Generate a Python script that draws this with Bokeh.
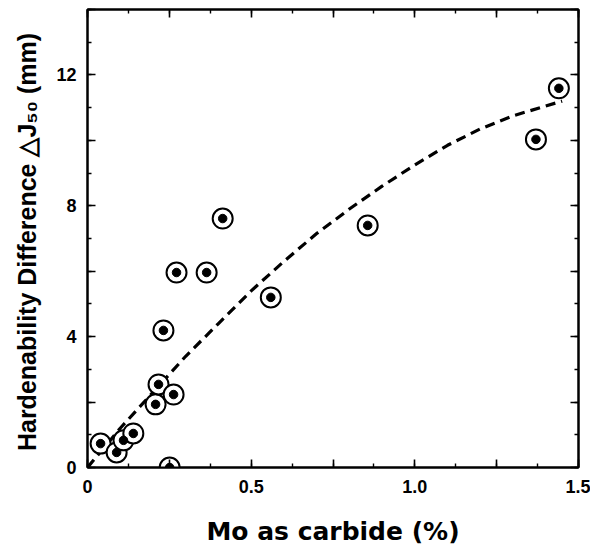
from bokeh.plotting import figure
from bokeh.models import Range1d, LinearAxis, FixedTicker, CustomJSTickFormatter
from bokeh.embed import file_html
from bokeh.resources import INLINE

# Data
mo_carbide = [0.04, 0.089, 0.11, 0.14, 0.208, 0.217, 0.263, 0.251, 0.232, 0.272,
              0.364, 0.413, 0.56, 0.856, 1.37, 1.44]
delta_j50 = [0.73, 0.46, 0.83, 1.04, 1.93, 2.54, 2.23, 0.0, 4.19, 5.96,
             5.96, 7.61, 5.2, 7.4, 10.03, 11.59]

# dashed trend curve
fit_x = [0, 0.1, 0.2, 0.3, 0.4, 0.5, 0.6, 0.7, 0.8, 0.9, 1.0, 1.1, 1.2, 1.3, 1.45]
fit_y = [0, 1.2, 2.3, 3.4, 4.4, 5.4, 6.3, 7.15, 7.9, 8.6, 9.25, 9.85, 10.35, 10.75, 11.2]

x_major = [0, 0.25, 0.5, 0.75, 1.0, 1.25, 1.5]
x_minor = [0, 0.125, 0.25, 0.375, 0.5, 0.625, 0.75, 0.875, 1.0, 1.125, 1.25, 1.375, 1.5]
y_major = [0, 2, 4, 6, 8, 10, 12, 14]
y_minor = [0, 1, 2, 3, 4, 5, 6, 7, 8, 9, 10, 11, 12, 13, 14]

x_title = "Mo as carbide (%)"
y_title = "Hardenability Difference  \u25b3J\u2085\u2080 (mm)"

TICK_FONT = "Liberation Sans"

p = figure(width=590, height=556, x_range=Range1d(0, 1.5), y_range=Range1d(0, 14),
           output_backend="svg", toolbar_location=None,
           x_axis_location=None, y_axis_location=None,
           min_border_left=87, min_border_right=12, min_border_top=9, min_border_bottom=89)
p.xgrid.visible = False
p.ygrid.visible = False
p.outline_line_color = "black"
p.outline_line_width = 2
p.background_fill_color = "white"
p.border_fill_color = "white"


def make_axis(major, minor, formatter, labels=True):
    ax = LinearAxis(ticker=FixedTicker(ticks=major, minor_ticks=minor), formatter=formatter)
    ax.axis_line_color = "black"
    ax.axis_line_width = 2
    ax.major_tick_in = 8
    ax.major_tick_out = 0
    ax.minor_tick_in = 4
    ax.minor_tick_out = 0
    ax.major_tick_line_width = 1.6
    ax.minor_tick_line_width = 1.4
    ax.major_tick_line_color = "black"
    ax.minor_tick_line_color = "black"
    if labels:
        ax.major_label_text_font = TICK_FONT
        ax.major_label_text_font_style = "bold"
        ax.major_label_text_font_size = "18px"
        ax.major_label_text_color = "black"
    else:
        ax.major_label_text_font_size = "0px"
        ax.major_label_standoff = 0
    return ax


blank = CustomJSTickFormatter(code="return '';")
xfmt = CustomJSTickFormatter(code="""
if (Math.abs(tick*2 - Math.round(tick*2)) > 1e-6) return '';
return tick == 0 ? '0' : tick.toFixed(1);
""")
yfmt = CustomJSTickFormatter(code="return (Math.abs(tick % 4) < 1e-6) ? tick.toFixed(0) : '';")

bottom = make_axis(x_major, x_minor, xfmt)
bottom.major_label_standoff = 12
bottom.axis_label = x_title
bottom.axis_label_text_font = "DejaVu Sans"
bottom.axis_label_text_font_style = "bold"
bottom.axis_label_text_font_size = "25px"
bottom.axis_label_text_color = "black"
bottom.axis_label_standoff = 21

left = make_axis(y_major, y_minor, yfmt)
left.major_label_standoff = 11
left.axis_label = y_title
left.axis_label_text_font = "Liberation Sans"
left.axis_label_text_font_style = "bold"
left.axis_label_text_font_size = "25px"
left.axis_label_text_color = "black"
left.axis_label_standoff = 12

top = make_axis(x_major, x_minor, blank, labels=False)
right = make_axis(y_major, y_minor, blank, labels=False)

p.add_layout(bottom, "below")
p.add_layout(left, "left")
p.add_layout(top, "above")
p.add_layout(right, "right")

# trend curve and data markers
p.line(fit_x, fit_y, line_dash="10 6", line_width=3.2, line_color="black")
p.scatter(mo_carbide, delta_j50, size=20, marker="circle",
          fill_color="white", line_color="black", line_width=2)
p.scatter(mo_carbide, delta_j50, size=8.5, marker="circle",
          fill_color="black", line_color="black")

open("out.html", "w").write(file_html(p, INLINE))
